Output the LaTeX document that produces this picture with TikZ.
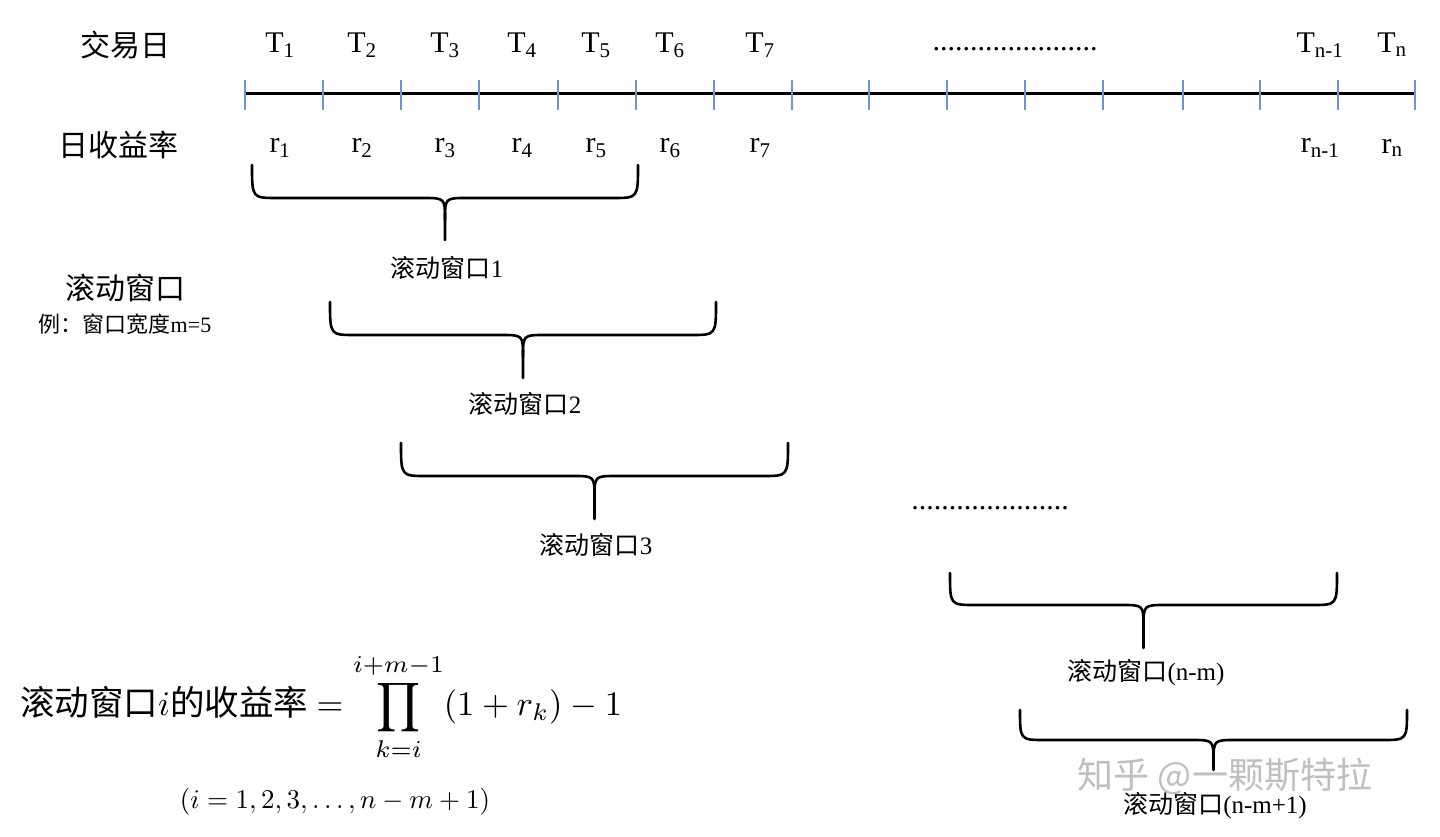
\documentclass[tikz,border=0pt]{standalone}
\usepackage{amsmath}
\usepackage{fontspec}
\setmainfont{Liberation Serif}
\newfontfamily\cjk{Noto Sans CJK SC}
\tikzset{x=1pt,y=-1pt,
 tick/.style={draw={rgb,255:red,110;green,150;blue,210},line width=1.3pt},
 brc/.style={line width=2.6pt,line cap=round},
 lab/.style={font=\fontsize{30}{32}\selectfont},
 wlab/.style={font=\fontsize{25}{28}\selectfont}}
\newcommand{\wbrace}[5]{% x1 x2 top body tip
 \pgfmathsetmacro{\cc}{(#1+#2)/2}
 \draw[brc] (#1,#3) .. controls (#1,#4) .. (#1+25,#4) -- (\cc-22,#4) .. controls (\cc,#4) .. (\cc,#4+22) -- (\cc,#5);
 \draw[brc] (#2,#3) .. controls (#2,#4) .. (#2-25,#4) -- (\cc+22,#4) .. controls (\cc,#4) .. (\cc,#4+22);}
\begin{document}
\begin{tikzpicture}
\useasboundingbox[fill=white] (0,0) rectangle (1440,837);
\coordinate (L) at (245,94); \coordinate (R) at (1415,94);
\draw[line width=3pt] (L) -- (R);
\foreach \x in {245,323,401,479,558,636,714,792,869,947,1025,1103,1183,1260,1338,1415}
  \draw[tick] (\x,80) -- (\x,110);
\node[lab,font=\cjk\fontsize{30}{32}\selectfont] (jy) at (125,45) {交易日};
\node[lab,font=\cjk\fontsize{30}{32}\selectfont] (sy) at (118,145) {日收益率};
\foreach \x/\s [count=\i] in {280/1,362/2,445/3,522/4,596/5,670/6,760/7}{
  \node[lab] (T\i) at (\x,45) {T\textsubscript{\s}};
  \node[lab] (r\i) at (\x,148) {r\textsubscript{\s}};}
\node[lab] (Tn1) at (1320,45) {T\textsubscript{n-1}};
\node[lab] (Tn) at (1392,45) {T\textsubscript{n}};
\node[lab] (rn1) at (1320,148) {r\textsubscript{n-1}};
\node[lab] (rn) at (1392,148) {r\textsubscript{n}};
\node[lab] (d1) at (1015,49) {......................};
\wbrace{252}{638}{165}{198}{240}
\node[wlab] (w1) at (447,268) {{\cjk 滚动窗口}1};
\wbrace{330}{716}{302}{335}{378}
\node[wlab] (w2) at (525,404) {{\cjk 滚动窗口}2};
\wbrace{401}{788}{443}{476}{519}
\node[wlab] (w3) at (596,545) {{\cjk 滚动窗口}3};
\node[lab] (d2) at (990,508) {.....................};
\wbrace{950}{1337}{573}{605}{648}
\node[wlab] (w4) at (1146,673) {{\cjk 滚动窗口}(n-m)};
\wbrace{1020}{1407}{710}{740}{770}
\node[font=\cjk\fontsize{36}{38}\selectfont,text=black!25] (wm) at (1225,776) {知乎 @一颗斯特拉};
\node[wlab] (w5) at (1215,806) {{\cjk 滚动窗口}(n-m+1)};
\node[font=\cjk\fontsize{30}{32}\selectfont] (gd) at (125,288) {滚动窗口};
\node[font=\fontsize{22}{24}\selectfont] (ex) at (125,324) {{\cjk 例：窗口宽度}m=5};
\node[anchor=west,inner sep=0pt] (f) at (20,707) {\scalebox{3.45}{\fontsize{10}{12}\selectfont{\cjk 滚动窗口}$i${\cjk 的收益率} $=\displaystyle\prod_{k=i}^{i+m-1}(1+r_k)-1$}};
\node (cond) at (335,802) {\scalebox{2.7}{\fontsize{10}{12}\selectfont$(i=1,2,3,\ldots,n-m+1)$}};
\end{tikzpicture}
\end{document}
